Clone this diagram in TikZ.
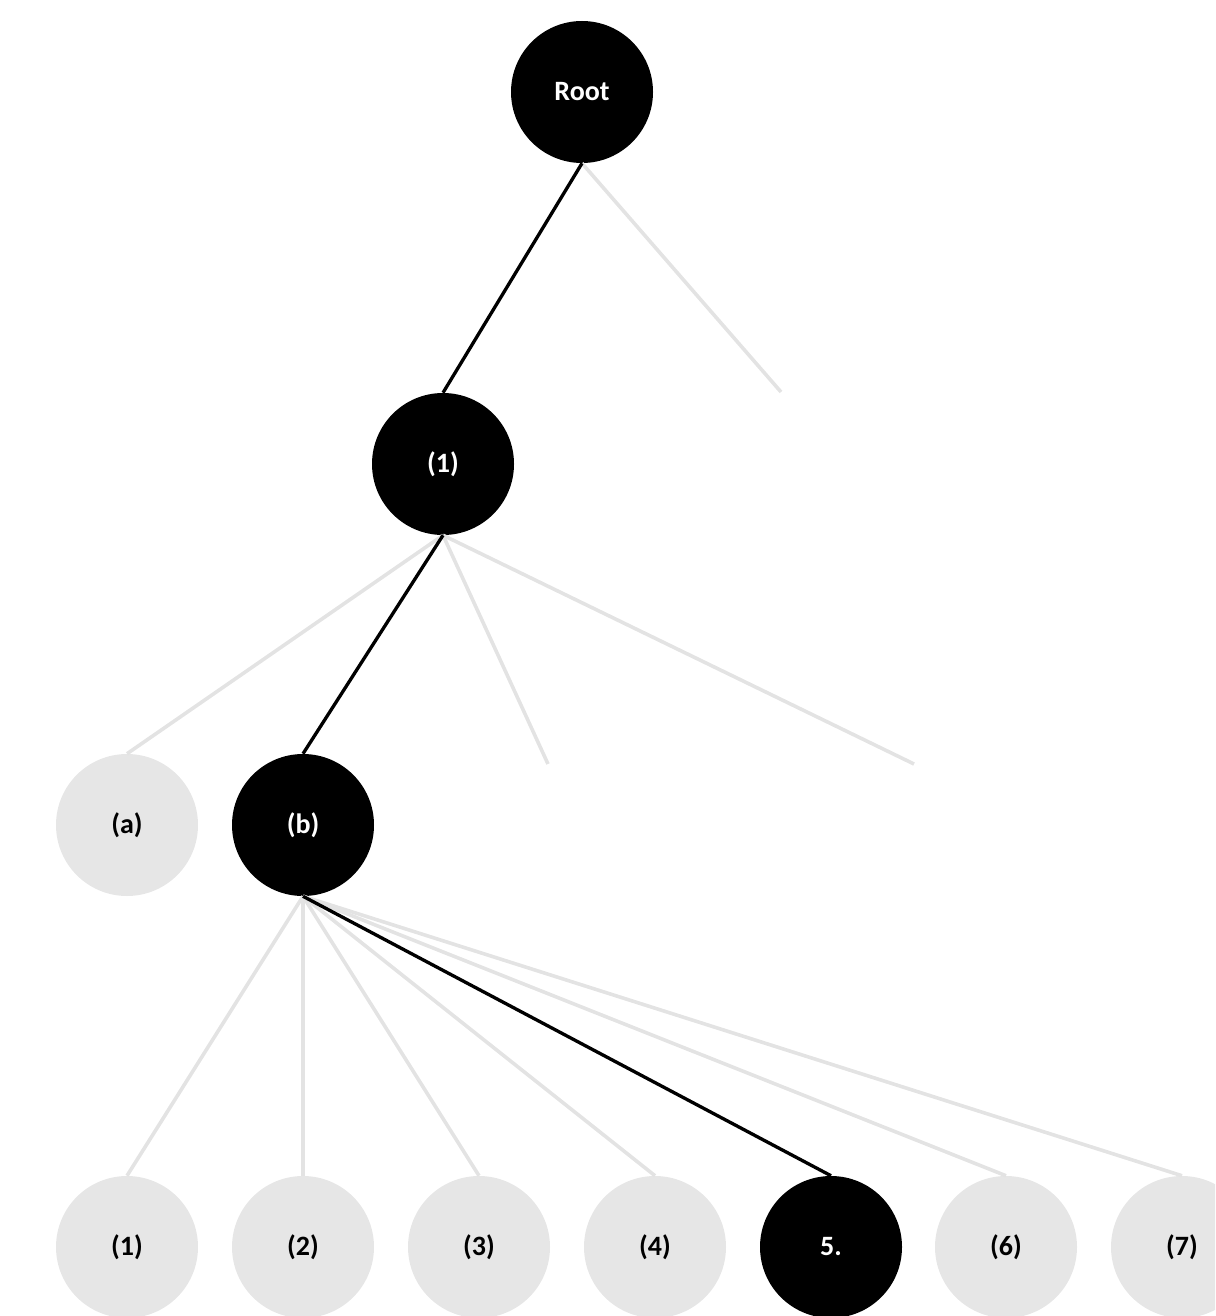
\documentclass[tikz,border=0pt]{standalone}
\usepackage{fontspec}
\setmainfont{Carlito}
\definecolor{lightg}{HTML}{E6E6E6}
\definecolor{lineg}{HTML}{E3E3E3}
\begin{document}
\begin{tikzpicture}[x=0.75pt,y=-0.75pt,
  dark/.style={circle,fill=black,text=white,minimum size=106.5pt,inner sep=0pt,font=\fontsize{21}{25}\selectfont\bfseries},
  light/.style={circle,fill=lightg,text=black,minimum size=106.5pt,inner sep=0pt,font=\fontsize{21}{25}\selectfont\bfseries},
  hot/.style={draw=black,line width=2.5pt},
  cold/.style={draw=lineg,line width=2.7pt}]
\useasboundingbox[clip] (0,0) rectangle (1215,1316);
\node[dark] (root) at (582,92) {Root};
\node[dark] (n1) at (443,464) {(1)};
\node[light] (a) at (127,825) {(a)};
\node[dark] (b) at (303,825) {(b)};
\node[light] (c1) at (127,1247) {(1)};
\node[light] (c2) at (303,1247) {(2)};
\node[light] (c3) at (479,1247) {(3)};
\node[light] (c4) at (655,1247) {(4)};
\node[dark] (c5) at (831,1247) {5.};
\node[light] (c6) at (1006,1247) {(6)};
\node[light] (c7) at (1182,1247) {(7)};
\coordinate (s1) at (781,392);
\coordinate (s2) at (548,764);
\coordinate (s3) at (914,764);
\draw[cold] (root.south) -- (s1);
\draw[hot] (root.south) -- (n1.north);
\draw[cold] (n1.south) -- (a.north);
\draw[cold] (n1.south) -- (s2);
\draw[cold] (n1.south) -- (s3);
\draw[hot] (n1.south) -- (b.north);
\foreach \c in {c1,c2,c3,c4,c6,c7} \draw[cold] (b.south) -- (\c.north);
\draw[hot] (b.south) -- (c5.north);
\end{tikzpicture}
\end{document}
